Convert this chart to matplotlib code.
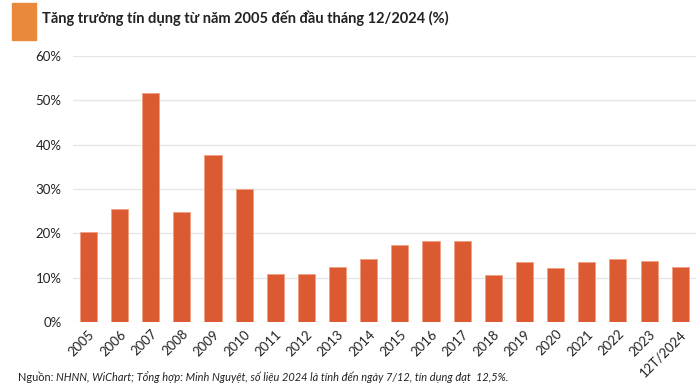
import matplotlib.pyplot as plt
from matplotlib.patches import Rectangle

plt.rcParams['font.family'] = ['Lato', 'DejaVu Sans']

# dữ liệu tăng trưởng tín dụng (%)
years = ['2005', '2006', '2007', '2008', '2009', '2010', '2011', '2012', '2013', '2014',
         '2015', '2016', '2017', '2018', '2019', '2020', '2021', '2022', '2023', '12T/2024']
growth = [20.4, 25.4, 51.6, 24.9, 37.7, 29.9, 10.9, 10.9, 12.5, 14.2,
          17.3, 18.2, 18.4, 10.7, 13.6, 12.2, 13.6, 14.2, 13.7, 12.5]
yticks = [0, 10, 20, 30, 40, 50, 60]

bar_color = '#DC5A32'
grid_color = '#E6E6E6'

fig = plt.figure(figsize=(7, 3.91), dpi=100)
ax = fig.add_axes([0.104, 0.1757, 0.89, 0.6818])

x = range(len(years))
ax.bar(x, growth, width=0.55, color=bar_color, edgecolor='#F0A080', linewidth=0.6, zorder=3)

ax.set_xlim(-0.5, len(years) - 0.5)
ax.set_ylim(0, 60)
ax.set_yticks(yticks)
ax.set_yticklabels([f'{v}%' for v in yticks], fontsize=9.5, color='#222222')
ax.set_xticks(list(x))
ax.set_xticklabels(years, rotation=45, ha='right', rotation_mode='anchor',
                   fontsize=9.5, color='#222222')
ax.tick_params(axis='both', length=0, pad=8)
ax.tick_params(axis='x', pad=4)
ax.grid(axis='y', color=grid_color, linewidth=1, zorder=0)
for s in ax.spines.values():
    s.set_visible(False)

# tiêu đề với ô vuông màu cam
fig.patches.append(Rectangle((12 / 700, 1 - 40 / 391), 24 / 700, 37 / 391,
                             transform=fig.transFigure, color='#E8893C', zorder=5))
fig.text(42 / 700, 1 - 18 / 391, 'Tăng trưởng tín dụng từ năm 2005 đến đầu tháng 12/2024 (%)',
         fontsize=10.5, fontweight='bold', color='#222222', va='center', ha='left')

# nguồn
t1 = fig.text(18 / 700, 1 - 377 / 391, 'Nguồn: ', fontsize=7.9, color='#222222', va='center')
fig.canvas.draw()
bb = t1.get_window_extent()
fig.text(bb.x1 / 700, 1 - 377 / 391,
         'NHNN, WiChart; Tổng hợp: Minh Nguyệt, số liệu 2024 là tính đến ngày 7/12, tín dụng đạt  12,5%.',
         fontsize=7.9, style='italic', color='#222222', va='center')

fig.savefig('out.png', dpi=100)
